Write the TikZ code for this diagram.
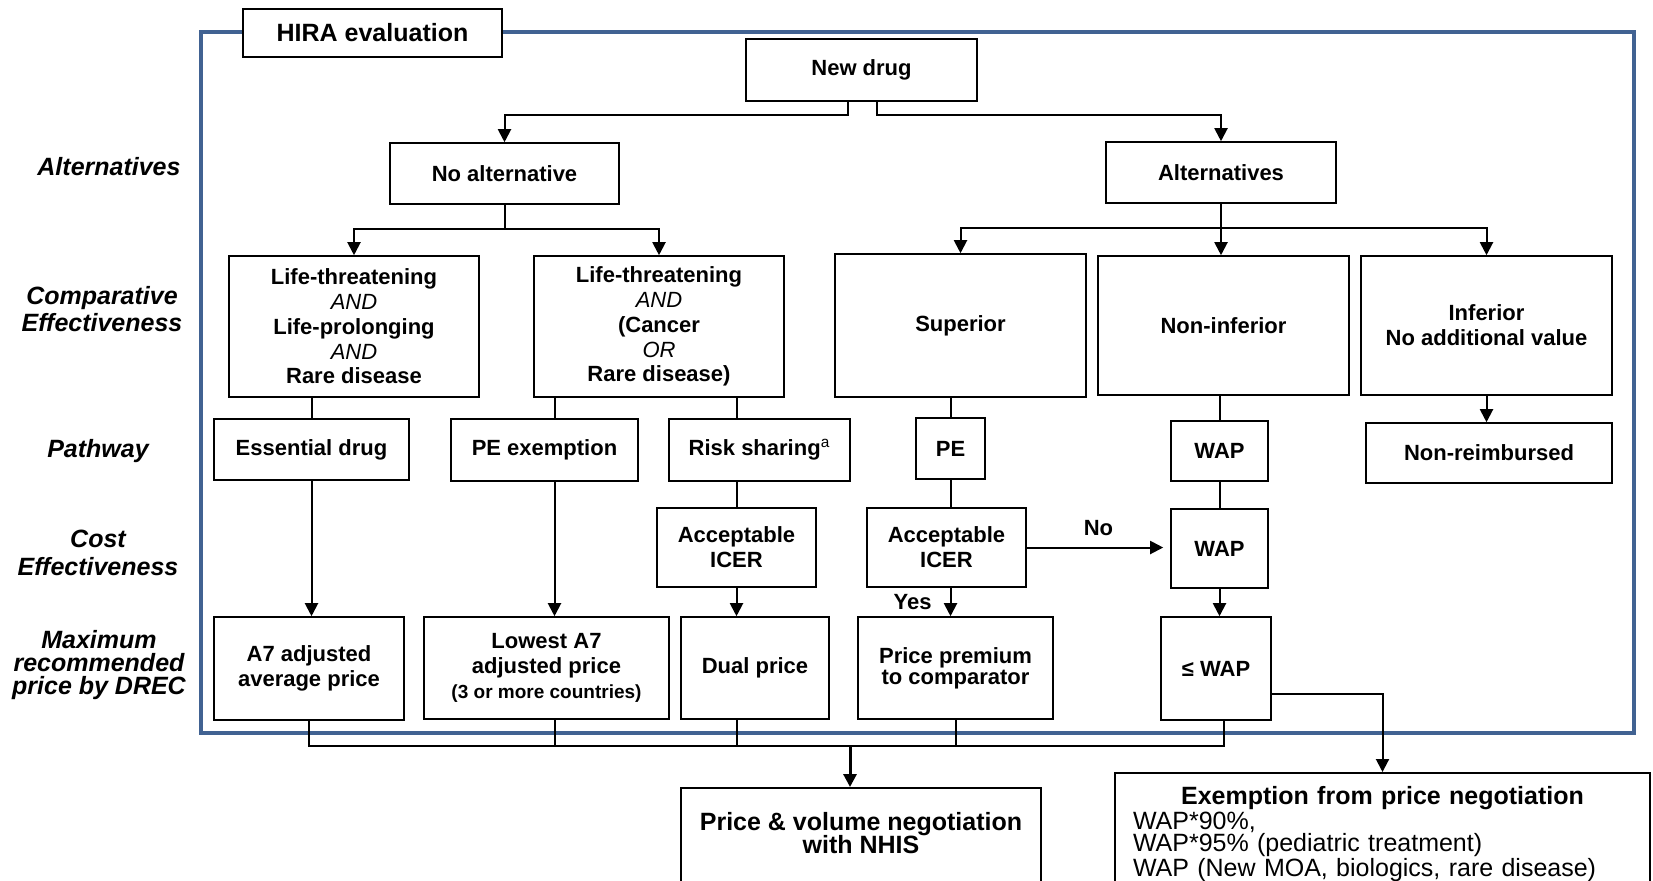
\documentclass[tikz,border=0pt]{standalone}
\usepackage{fontspec}
\setmainfont{Liberation Sans}
\usetikzlibrary{arrows.meta,calc}
\definecolor{frameblue}{RGB}{65,98,146}
\newcommand{\logic}[1]{{\mdseries\itshape #1}}
\lineskiplimit=-10pt

\begin{document}
\begin{tikzpicture}[x=0.5pt,y=-0.5pt,
	box/.style={draw, line width=0.8pt, fill=white, align=center, inner sep=0pt,
		font=\fontsize{11}{12.4}\selectfont\bfseries},
	lab/.style={align=center, inner sep=0pt, font=\fontsize{12.5}{13.8}\selectfont\bfseries\itshape},
	conn/.style={line width=1pt},
	arr/.style={conn, -{Triangle[length=6.5pt,width=6.5pt]}},
	tag/.style={inner sep=0pt, font=\fontsize{11}{12}\selectfont\bfseries}]
	\useasboundingbox (0,0) rectangle (1653,880);
	\draw[frameblue, line width=1.7pt] (201,32) rectangle (1634,733);
	\node[box, minimum width=129.5pt, minimum height=24pt, font=\fontsize{12.5}{14}\selectfont\bfseries] (hira) at (372.5,33) {HIRA evaluation};

	\node[lab] (l1) at (109,167) {Alternatives};
	\node[lab] (l2) at (102,309) {Comparative\\Effectiveness};
	\node[lab] (l3) at (98,451) {Pathway};
	\node[lab] (l4) at (98,553) {Cost\\Effectiveness};
	\node[lab, font=\fontsize{12.5}{11.4}\selectfont\bfseries\itshape] (l5) at (99,665) {Maximum\\recommended\\price by DREC};

	\node[box, minimum width=115.5pt, minimum height=31pt] (nd) at (861.5,70) {New drug};
	\node[box, minimum width=114.5pt, minimum height=30.5pt] (noalt) at (504.5,173.5) {No alternative};
	\node[box, minimum width=115pt, minimum height=30.5pt] (alt) at (1221,172.5) {Alternatives};

	\node[box, minimum width=125pt, minimum height=70.5pt] (lt1) at (354,326.5) {Life-threatening\\\logic{AND}\\Life-prolonging\\\logic{AND}\\Rare disease};
	\node[box, minimum width=125pt, minimum height=70.5pt] (lt2) at (659,326.5) {Life-threatening\\\logic{AND}\\(Cancer\\\logic{OR}\\Rare disease)};
	\node[box, minimum width=125.5pt, minimum height=71.5pt] (sup) at (960.5,325.5) {Superior};
	\node[box, minimum width=125.5pt, minimum height=69.5pt] (ninf) at (1223.5,325.5) {Non-inferior};
	\node[box, minimum width=125.5pt, minimum height=69.5pt] (inf) at (1486.5,325.5) {Inferior\\No additional value};

	\node[box, minimum width=97.5pt, minimum height=30.5pt] (ess) at (311.5,449.5) {Essential drug};
	\node[box, minimum width=93.5pt, minimum height=31pt] (pex) at (544.5,450) {PE exemption};
	\node[box, minimum width=90.5pt, minimum height=31pt] (rs) at (759.5,450) {Risk sharing\textsuperscript{\mdseries a}};
	\node[box, minimum width=34.5pt, minimum height=30.5pt] (pe) at (950.5,448.5) {PE};
	\node[box, minimum width=48.5pt, minimum height=30pt] (wap) at (1219.5,451) {WAP};
	\node[box, minimum width=123pt, minimum height=30pt] (nr) at (1489,453) {Non-reimbursed};

	\node[box, minimum width=79.5pt, minimum height=39.5pt] (icer1) at (736.5,547.5) {Acceptable\\ICER};
	\node[box, minimum width=79.5pt, minimum height=39.5pt] (icer2) at (946.5,547.5) {Acceptable\\ICER};
	\node[box, minimum width=48.5pt, minimum height=39.5pt] (wap2) at (1219.5,548.5) {WAP};

	\node[box, minimum width=95pt, minimum height=51.5pt] (a7) at (309,668.5) {A7 adjusted\\average price};
	\node[box, minimum width=122.5pt, minimum height=51pt] (low) at (546.5,668) {Lowest A7\\adjusted price\\{\fontsize{9.5}{11}\selectfont (3 or more countries)}};
	\node[box, minimum width=74pt, minimum height=51pt] (dual) at (755,668) {Dual price};
	\node[box, minimum width=97.5pt, minimum height=51pt, font=\fontsize{11}{10.5}\selectfont\bfseries] (prem) at (955.5,668) {Price premium\\to comparator};
	\node[box, minimum width=55pt, minimum height=51.5pt] (lewap) at (1216,668.5) {≤ WAP};

	\node[box, anchor=north, minimum width=180pt, inner ysep=12.4pt, text depth=30pt, font=\fontsize{12.5}{11.4}\selectfont\bfseries] (pvn) at (861,787) {Price \& volume negotiation\\with NHIS};
	\node[box, anchor=north, text width=249.5pt, align=left, inner xsep=9pt, inner ysep=7pt, text depth=40pt, font=\fontsize{12.5}{11}\selectfont] (exm) at (1382.5,772) {{\centering\bfseries Exemption from price negotiation\par}WAP*90\%,\\WAP*95\% (pediatric treatment)\\WAP (New MOA, biologics, rare disease)};

	\draw[arr] ([xshift=-7pt]nd.south) -- ++(0,13) -| (noalt.north);
	\draw[arr] ([xshift=7.75pt]nd.south) -- ++(0,13) -| (alt.north);
	\draw[arr] (noalt.south) -- ++(0,24) -| (lt1.north);
	\draw[arr] (noalt.south) -- ++(0,24) -| (lt2.north);
	\draw[arr] (alt.south) -- ++(0,24) -| (sup.north);
	\draw[arr] (alt.south) -- ++(0,24) -| (inf.north);
	\draw[arr] (alt.south) -- (alt.south |- ninf.north);

	\draw[conn] (lt1.south -| ess.north) -- (ess.north);
	\draw[conn] ([xshift=5pt]lt2.south -| pex.north) -- ([xshift=5pt]pex.north);
	\draw[conn] (lt2.south -| icer1.north) -- (rs.north -| icer1.north);
	\draw[conn] (sup.south -| pe.north) -- (pe.north);
	\draw[conn] (ninf.south -| wap.north) -- (wap.north);
	\draw[arr] (inf.south) -- (inf.south |- nr.north);

	\draw[conn] (rs.south -| icer1.north) -- (icer1.north);
	\draw[conn] (pe.south) -- (pe.south |- icer2.north);
	\draw[conn] (wap.south) -- (wap2.north);
	\draw[arr, shorten >=3.5pt] (icer2.east) -- node[tag, above=5.5pt] (no) {No} (icer2.east -| wap2.west);

	\draw[arr] (ess.south) -- (ess.south |- a7.north);
	\draw[arr] ([xshift=5pt]pex.south) -- ([xshift=5pt]pex.south |- low.north);
	\draw[arr] (icer1.south) -- (icer1.south |- dual.north);
	\draw[arr] (icer2.south -| pe.south) -- node[tag, left=9pt] (yes) {Yes} (pe.south |- prem.north);
	\draw[arr] (wap2.south) -- (wap2.south |- lewap.north);

	\coordinate (mg) at (850,746);
	\draw[conn] (a7.south) -- (a7.south |- mg) -- ([xshift=4pt]mg -| lewap.south) -- ([xshift=4pt]lewap.south);
	\draw[conn] ([xshift=4pt]low.south) -- ([xshift=4pt]low.south |- mg);
	\draw[conn] (dual.south -| icer1.south) -- (icer1.south |- mg);
	\draw[conn] (prem.south) -- (prem.south |- mg);
	\draw[arr, line width=1.5pt] (mg) -- (mg |- pvn.north);
	\draw[arr] ([yshift=-12.75pt]lewap.east) -| (exm.north);
\end{tikzpicture}
\end{document}
